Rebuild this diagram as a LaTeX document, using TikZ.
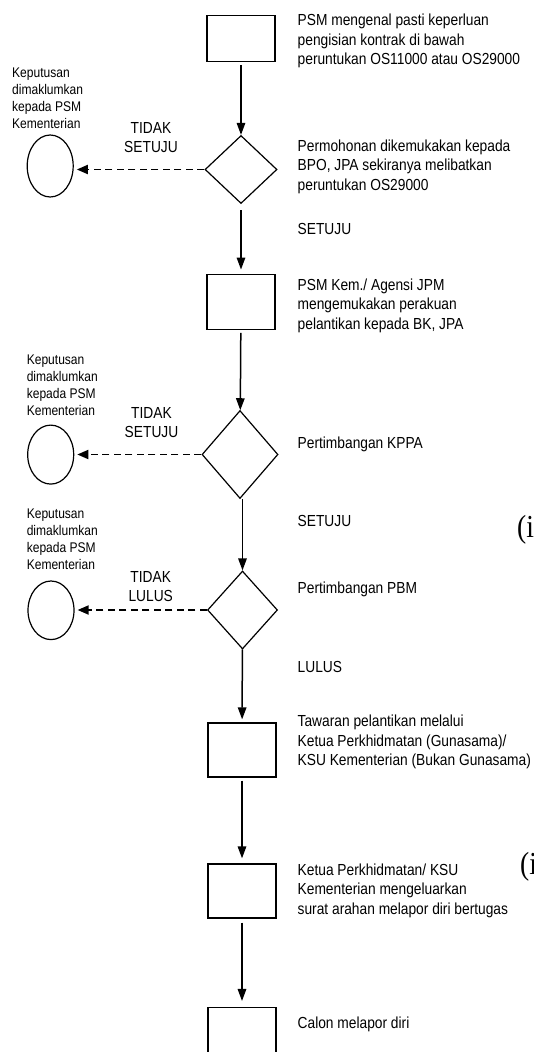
\documentclass[tikz,border=0pt]{standalone}
\usepackage{fontspec}
\setmainfont{Liberation Sans}[FakeStretch=0.86]
\newfontfamily\parenfont{Liberation Serif}[FakeStretch=0.86]
\usetikzlibrary{shapes.geometric,arrows.meta}
\begin{document}
\begin{tikzpicture}[x=1pt,y=-1pt,
  box/.style={draw, line width=1.3pt, minimum width=68pt, minimum height=54pt, inner sep=0pt},
  dec/.style={draw, diamond, line width=1.2pt, inner sep=0pt},
  term/.style={draw, ellipse, line width=1.2pt, inner sep=0pt, minimum width=46pt},
  flow/.style={line width=1.5pt, -{Triangle[length=12pt,width=8.5pt]}},
  reject/.style={line width=1.8pt, dash pattern=on 7pt off 4.5pt, -{Triangle[length=11pt,width=9pt]}},
  desc/.style={anchor=north west, inner sep=0pt, align=left, font=\fontsize{16}{19.5}\selectfont},
  note/.style={anchor=north west, inner sep=0pt, align=left, font=\fontsize{14}{17}\selectfont},
  answer/.style={anchor=north, inner sep=0pt, align=center, font=\fontsize{16}{19}\selectfont},
  roman/.style={anchor=base west, inner sep=0pt, font=\parenfont\fontsize{32}{32}\selectfont}
]
\useasboundingbox (0,0) rectangle (534,1052);
\clip (0,0) rectangle (534,1052);

% shapes
\node[box, minimum height=46pt] (b1) at (241,38.3) {};
\node[dec, minimum width=72pt, minimum height=68pt] (d1) at (241,169.5) {};
\node[term, minimum height=62pt] (c1) at (50.2,166) {};
\node[box, minimum height=55pt] (b2) at (241,301.7) {};
\node[dec, minimum width=76pt, minimum height=88pt] (d2) at (240,454.5) {};
\node[term, minimum height=59pt] (c2) at (50.7,454.6) {};
\node[dec, minimum width=70pt, minimum height=78pt] (d3) at (242.5,610) {};
\node[term, minimum height=58.6pt] (c3) at (51,610.3) {};
\node[box] (b4) at (242,750) {};
\node[box] (b5) at (242,891) {};
\node[box] (b6) at (242,1034.6) {};

% main flow
\draw[flow, shorten <=3.5pt] (b1) -- (d1);
\draw[flow, shorten <=6pt, shorten >=4pt] (d1) -- (b2);
\draw[flow, shorten <=3pt] (b2) -- (d2);
\draw[flow] (d2.south -| d3.north) -- (d3.north);
\draw[flow, shorten >=3pt] (d3) -- (b4);
\draw[flow, shorten <=3pt, shorten >=5pt] (b4) -- (b5);
\draw[flow, shorten <=4pt, shorten >=6pt] (b5) -- (b6);

% rejections
\draw[reject, shorten >=3pt] (d1.west) -- (d1.west -| c1.east);
\draw[reject, shorten >=3pt] (d2.west) -- (d2.west -| c2.east);
\draw[reject, shorten >=3pt] (d3.west) -- (d3.west -| c3.east);

% descriptions
\node[desc] (t1) at (297.5,13.8) {PSM mengenal pasti keperluan\\pengisian kontrak di bawah\\peruntukan OS11000 atau OS29000};
\node[desc] (t2) at (297.5,139.6) {Permohonan dikemukakan kepada\\BPO, JPA sekiranya melibatkan\\peruntukan OS29000};
\node[desc] (s1) at (297.5,223) {SETUJU};
\node[desc] (t3) at (297.5,278.7) {PSM Kem./ Agensi JPM\\mengemukakan perakuan\\pelantikan kepada BK, JPA};
\node[desc] (t4) at (297.5,437) {Pertimbangan KPPA};
\node[desc] (s2) at (297.5,515) {SETUJU};
\node[desc] (t5) at (297.5,581.7) {Pertimbangan PBM};
\node[desc] (s3) at (297.5,660.8) {LULUS};
\node[desc] (t6) at (297.5,715) {Tawaran pelantikan melalui\\Ketua Perkhidmatan (Gunasama)/\\KSU Kementerian (Bukan Gunasama)};
\node[desc] (t7) at (297.5,863.5) {Ketua Perkhidmatan/ KSU\\Kementerian mengeluarkan\\surat arahan melapor diri bertugas};
\node[desc] (t8) at (297.5,1016.7) {Calon melapor diri};

% notes
\node[note] (k1) at (12,68) {Keputusan\\dimaklumkan\\kepada PSM\\Kementerian};
\node[note] (k2) at (26.6,355) {Keputusan\\dimaklumkan\\kepada PSM\\Kementerian};
\node[note] (k3) at (26.6,508.5) {Keputusan\\dimaklumkan\\kepada PSM\\Kementerian};

% answers
\node[answer] (a1) at (151,122.6) {TIDAK\\SETUJU};
\node[answer] (a2) at (151.5,407) {TIDAK\\SETUJU};
\node[answer] (a3) at (150.7,571) {TIDAK\\LULUS};

% cut-off marks at right edge
\node[roman] (p1) at (517,537) {(i};
\node[roman] (p2) at (520,874) {(i};
\end{tikzpicture}
\end{document}
